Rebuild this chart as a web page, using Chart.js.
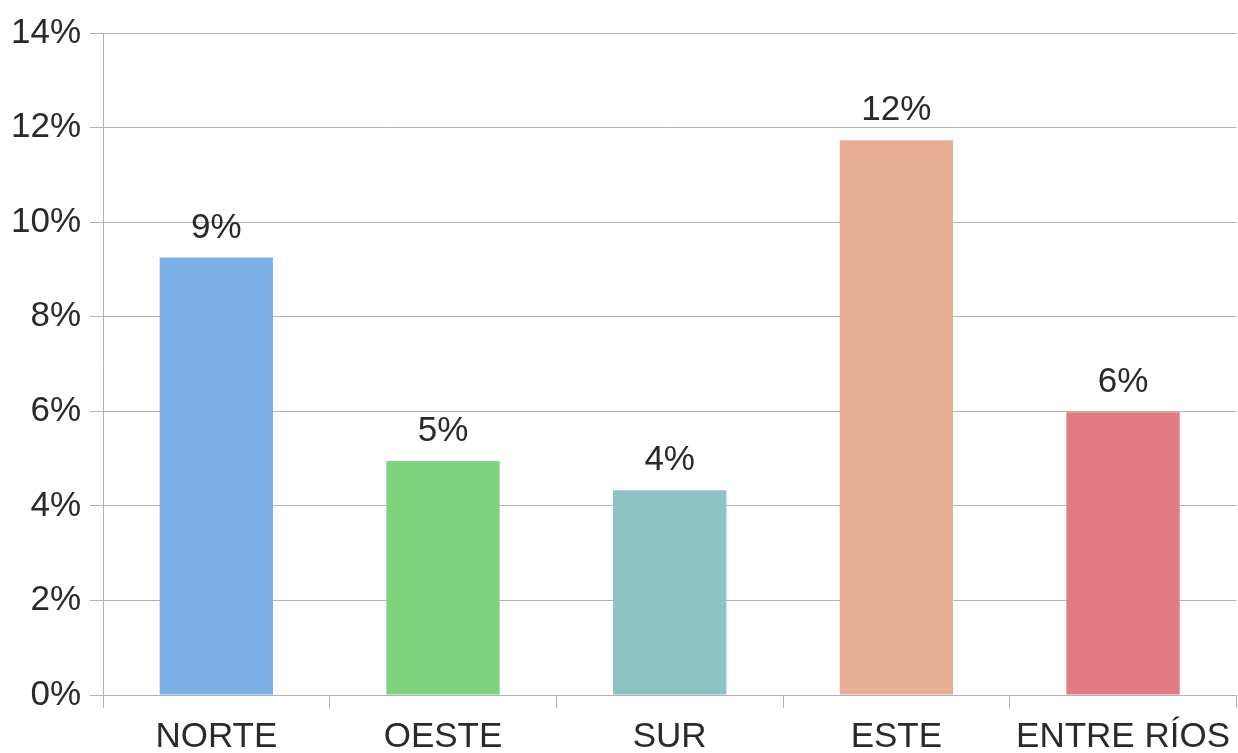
<!DOCTYPE html>
<html lang="es">
<head>
  <meta charset="UTF-8">
  <title>Porcentaje por zona</title>
  <script src="https://cdn.jsdelivr.net/npm/chart.js"></script>
  <style>
    html, body { margin: 0; padding: 0; background: #fff; }
    .chart-wrapper { width: 1238px; height: 753px; }
  </style>
</head>
<body>
  <div class="chart-wrapper"><canvas id="barChart"></canvas></div>
  <script>
    const zonas = ['NORTE', 'OESTE', 'SUR', 'ESTE', 'ENTRE RÍOS'];
    const valores = [9.25, 4.95, 4.33, 11.73, 5.98];
    const colores = ['#7db0e4', '#7fd27e', '#8cc3c1', '#e5ae95', '#e27c83'];
    const yTicks = [0, 2, 4, 6, 8, 10, 12, 14];

    const fuente = { family: "'Liberation Sans', Arial, sans-serif", size: 35 };

    // etiquetas encima de cada barra
    const etiquetas = {
      id: 'etiquetas',
      afterDatasetsDraw(chart) {
        const ctx = chart.ctx;
        const meta = chart.getDatasetMeta(0);
        ctx.save();
        ctx.font = fuente.size + 'px ' + fuente.family;
        ctx.fillStyle = '#2a2a2a';
        ctx.textAlign = 'center';
        ctx.textBaseline = 'bottom';
        meta.data.forEach((bar, i) => {
          ctx.fillText(Math.round(valores[i]) + '%', bar.x, bar.y - 12);
        });
        ctx.restore();
      }
    };

    new Chart(document.getElementById('barChart').getContext('2d'), {
      type: 'bar',
      data: {
        labels: zonas,
        datasets: [{
          data: valores,
          backgroundColor: colores,
          borderWidth: 0,
          categoryPercentage: 1,
          barPercentage: 0.5
        }]
      },
      options: {
        responsive: true,
        maintainAspectRatio: false,
        animation: false,
        layout: { padding: { top: 33, right: 0, left: 0, bottom: 0 } },
        plugins: { legend: { display: false }, tooltip: { enabled: false } },
        scales: {
          x: {
            offset: true,
            grid: { offset: true, drawOnChartArea: false, color: '#b3b3b3', tickLength: 13 },
            border: { color: '#b3b3b3' },
            ticks: { color: '#2a2a2a', font: fuente, padding: 8, maxRotation: 0, autoSkip: false },
            afterFit(scale) { scale.height = 58; }
          },
          y: {
            min: 0,
            max: 14,
            z: 1,
            afterBuildTicks(scale) { scale.ticks = yTicks.map(v => ({ value: v })); },
            grid: { color: '#b3b3b3', tickLength: 13 },
            border: { color: '#b3b3b3' },
            ticks: { color: '#2a2a2a', font: fuente, padding: 9, callback: v => v + '%' },
            afterFit(scale) { scale.width = 103; }
          }
        }
      },
      plugins: [etiquetas]
    });
  </script>
</body>
</html>
